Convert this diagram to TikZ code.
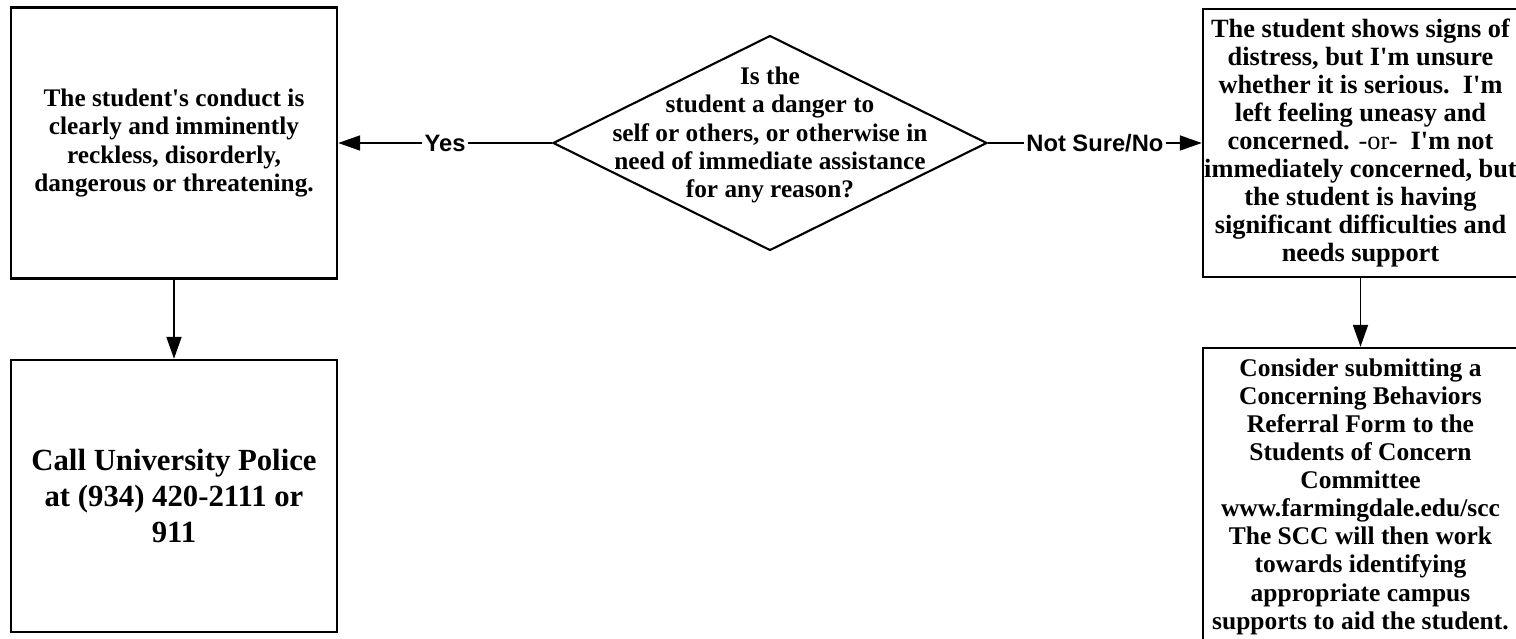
\documentclass[tikz,border=0pt]{standalone}
\usepackage{fontspec}
\setmainfont{Liberation Serif}
\setsansfont{Liberation Sans}
\usetikzlibrary{arrows.meta,shapes.geometric,positioning}
\newcommand{\apos}{\textquotesingle}

\begin{document}
\begin{tikzpicture}[x=0.02cm, y=-0.02cm,
  >={Triangle[length=12.5pt, width=8.5pt]},
  box/.style={draw, line width=1.4pt, align=center, inner sep=0pt,
    font=\fontsize{14.4}{16}\selectfont\bfseries},
  flow/.style={->, line width=1.1pt},
  answer/.style={fill=white, inner sep=1.5pt,
    font=\sffamily\bfseries\fontsize{13.5}{16}\selectfont}]
  \useasboundingbox (0,0) rectangle (1516,639);
  \clip (0,0) rectangle (1516,639);

  % Question (diamond)
  \node[diamond, draw, line width=1.2pt, inner sep=0pt,
    minimum width=8.68cm, minimum height=4.3cm] (question) at (770,143) {};
  \node[align=center, font=\fontsize{14.4}{16}\selectfont\bfseries] (qtext) at (770,135)
    {Is the\\ student a danger to\\ self or others, or otherwise in\\
     need of immediate assistance\\ for any reason?};

  % Left column: Yes
  \node[box, minimum width=6.52cm, minimum height=5.42cm] (danger) at (174,143)
    {The student\apos s conduct is\\ clearly and imminently\\
     reckless, disorderly,\\ dangerous or threatening.};
  \node[box, minimum width=6.52cm, minimum height=5.44cm,
    font=\fontsize{17.5}{20.5}\selectfont\bfseries] (police) at (174,496)
    {Call University Police\\ at (934) 420-2111 or\\ 911};

  % Right column: Not Sure/No
  \node[box, minimum width=6.3cm, minimum height=5.36cm,
    font=\fontsize{15}{16}\selectfont\bfseries] (distress) at (1360.5,143)
    {The student shows signs of\\ distress, but I\apos m unsure\\
     whether it is serious.\ \ I\apos m\\ left feeling uneasy and\\
     concerned. \textmd{-or-}\ \ I\apos m not\\ immediately concerned, but\\
     the student is having\\ significant difficulties and\\ needs support};
  \node[box, minimum width=6.3cm, minimum height=5.94cm,
    font=\fontsize{14.5}{16}\selectfont\bfseries] (referral) at (1360.5,496.5)
    {Consider submitting a\\ Concerning Behaviors\\ Referral Form to the\\
     Students of Concern\\ Committee\\ www.farmingdale.edu/scc\\
     The SCC will then work\\ towards identifying\\ appropriate campus\\
     supports to aid the student.};

  % Arrows
  \draw[flow] (question.west) -- node[answer] {Yes} (danger.east);
  \draw[flow] (question.east) -- node[answer] {Not Sure/No} (distress.west);
  \draw[flow] (danger.south) -- (police.north);
  \draw[flow] (distress.south) -- (referral.north);
\end{tikzpicture}
\end{document}
